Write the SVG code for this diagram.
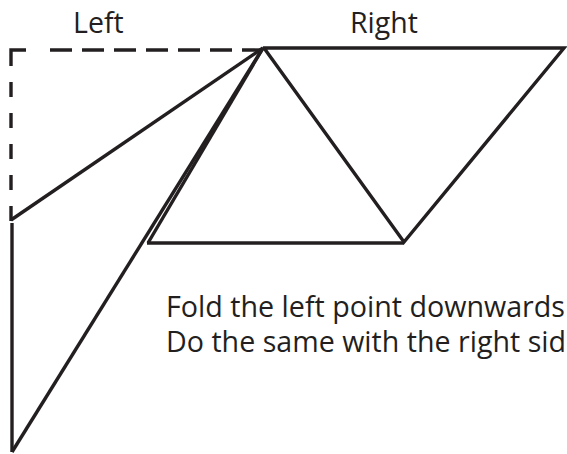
<svg xmlns="http://www.w3.org/2000/svg" width="567" height="454" viewBox="0 0 567 454">
<style>
.ln{fill:none;stroke:#231f20;stroke-width:3.4;stroke-linejoin:miter;stroke-linecap:butt}
.txt{font-family:"Open Sans","Liberation Sans",sans-serif;font-size:28.5px;fill:#231f20}
</style>
<rect width="567" height="454" fill="#fff"/>
<g id="labels">
<text class="txt" x="73" y="33">Left</text>
<text class="txt" x="350" y="33">Right</text>
</g>
<g id="connectors">
<path class="ln" d="M26,50 H11 V66" />
<path class="ln" d="M50,50 H262" stroke-dasharray="22 10"/>
<path class="ln" d="M11,82 V221" stroke-dasharray="15 16"/>
<path class="ln" d="M11,220 L263,48"/>
<path class="ln" d="M12,223 V452"/>
<path class="ln" d="M12,452 L263,48"/>
<path class="ln" d="M148,243 L263,48"/>
<path class="ln" d="M147,243 H404"/>
<path class="ln" d="M264,48 L404,242 L564,48 H263"/>
</g>
<g id="caption">
<text class="txt" x="166" y="317" textLength="399" lengthAdjust="spacingAndGlyphs">Fold the left point downwards</text>
<text class="txt" x="166" y="352" textLength="400" lengthAdjust="spacingAndGlyphs">Do the same with the right sid</text>
</g>
</svg>
